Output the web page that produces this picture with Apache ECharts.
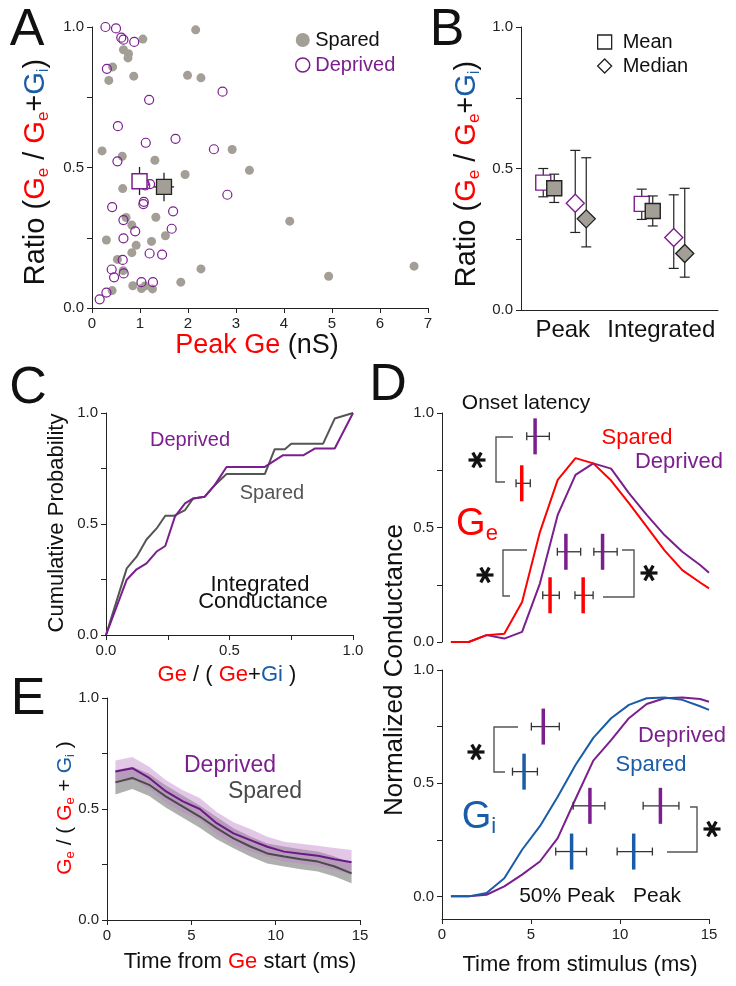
<!DOCTYPE html>
<html>
<head>
<meta charset="utf-8">
<script src="https://cdn.jsdelivr.net/npm/echarts@6/dist/echarts.min.js"></script>
<style>
  html, body { margin: 0; padding: 0; background: #fff; }
  #main { width: 736px; height: 986px; }
</style>
</head>
<body>
<div id="main"></div>
<script>
// ---------- data ----------
// A: peak Ge (nS) vs ratio, one point per cell
const aSparedX = [2.16, 1.06, 0.655, 0.76, 0.75, 0.43, 0.35, 0.87, 1.99, 2.27, 0.21, 0.63, 1.31, 2.92, 3.28, 1.94, 0.64, 1.33, 0.71, 0.83, 4.12, 1.53, 0.30, 1.24, 0.92, 0.83, 0.53, 2.27, 0.65, 4.93, 1.85, 0.85, 0.42, 1.03, 1.10, 1.26, 6.71];
const aSparedY = [0.99, 0.957, 0.919, 0.905, 0.89, 0.858, 0.81, 0.825, 0.828, 0.819, 0.559, 0.54, 0.526, 0.564, 0.49, 0.475, 0.425, 0.323, 0.322, 0.295, 0.309, 0.257, 0.242, 0.237, 0.223, 0.197, 0.173, 0.139, 0.133, 0.113, 0.092, 0.079, 0.062, 0.069, 0.078, 0.068, 0.149];
const aDeprivedX = [0.28, 0.50, 0.61, 0.655, 0.88, 0.31, 1.19, 2.72, 0.54, 1.12, 1.74, 2.54, 0.53, 1.11, 1.21, 1.09, 1.08, 1.07, 2.82, 0.42, 1.69, 0.655, 0.90, 1.66, 0.655, 1.20, 1.46, 0.64, 0.41, 0.46, 0.66, 1.03, 1.27, 0.30, 0.16];
const aDeprivedY = [1.0, 0.995, 0.962, 0.955, 0.947, 0.851, 0.741, 0.770, 0.647, 0.588, 0.602, 0.565, 0.522, 0.436, 0.441, 0.445, 0.378, 0.370, 0.403, 0.359, 0.344, 0.313, 0.273, 0.282, 0.248, 0.194, 0.19, 0.171, 0.137, 0.109, 0.123, 0.092, 0.092, 0.055, 0.031];
// A: group means [x, y], x error, y range
const aDepMean = [0.99, 0.451];
const aDepMeanXErr = [0.84, 1.14];
const aDepMeanYErr = [0.402, 0.502];
const aSpaMean = [1.5, 0.431];
const aSpaMeanXErr = [1.29, 1.71];
const aSpaMeanYErr = [0.38, 0.481];

// B: mean / median of ratio, peak and integrated
const bCats = ['Peak', 'Integrated'];
const bDepMean = [0.45, 0.375], bDepMeanLo = [0.40, 0.32], bDepMeanHi = [0.50, 0.427];
const bSpaMean = [0.43, 0.35], bSpaMeanLo = [0.38, 0.297], bSpaMeanHi = [0.48, 0.403];
const bDepMed = [0.377, 0.256], bDepMedLo = [0.274, 0.147], bDepMedHi = [0.564, 0.407];
const bSpaMed = [0.322, 0.20], bSpaMedLo = [0.223, 0.116], bSpaMedHi = [0.538, 0.43];

// C: cumulative probability of integrated Ge/(Ge+Gi)
const cSparedX = [0, 0.084, 0.124, 0.164, 0.205, 0.24, 0.275, 0.32, 0.353, 0.40, 0.44, 0.488, 0.643, 0.683, 0.724, 0.75, 0.879, 0.926, 1.0];
const cSparedY = [0, 0.30, 0.353, 0.43, 0.48, 0.537, 0.537, 0.563, 0.615, 0.623, 0.675, 0.725, 0.725, 0.837, 0.837, 0.862, 0.862, 0.975, 1.0];
const cDeprivedX = [0, 0.084, 0.124, 0.164, 0.205, 0.24, 0.279, 0.32, 0.353, 0.40, 0.44, 0.488, 0.643, 0.717, 0.80, 0.845, 0.926, 1.0];
const cDeprivedY = [0, 0.249, 0.296, 0.323, 0.376, 0.401, 0.533, 0.593, 0.615, 0.623, 0.675, 0.757, 0.757, 0.81, 0.81, 0.84, 0.84, 1.0];

// D: normalized conductance vs time from stimulus (ms)
const dTimes = [0.5, 1.5, 2.5, 3.5, 4.5, 5.5, 6.5, 7.5, 8.5, 9.5, 10.5, 11.5, 12.5, 13.5, 14.5, 15];
const geSpared = [0, 0, 0.03, 0.036, 0.175, 0.48, 0.708, 0.803, 0.78, 0.705, 0.606, 0.504, 0.40, 0.314, 0.26, 0.234];
const geDeprived = [0, 0, 0.03, 0.015, 0.044, 0.255, 0.555, 0.73, 0.78, 0.757, 0.65, 0.555, 0.467, 0.394, 0.336, 0.302];
const giSpared = [0, 0, 0.015, 0.08, 0.206, 0.31, 0.44, 0.58, 0.70, 0.787, 0.846, 0.875, 0.878, 0.868, 0.84, 0.824];
const giDeprived = [0, 0, 0.007, 0.044, 0.096, 0.154, 0.257, 0.43, 0.60, 0.69, 0.787, 0.85, 0.875, 0.878, 0.872, 0.86];
// D: latencies (ms): onset, 50% peak, peak; mean and error-bar ends
const latencyNames = ['Onset', '50% Peak', 'Peak'];
const geSparedLat = [4.48, 6.07, 7.93], geSparedLo = [4.16, 5.66, 7.47], geSparedHi = [4.96, 6.59, 8.49];
const geDeprivedLat = [5.23, 6.96, 9.02], geDeprivedLo = [4.76, 6.48, 8.53], geDeprivedHi = [6.03, 7.79, 9.84];
const giSparedLat = [4.61, 7.28, 10.77], giSparedLo = [3.96, 6.39, 9.84], giSparedHi = [5.36, 8.12, 11.82];
const giDeprivedLat = [5.69, 8.31, 12.27], giDeprivedLo = [5.02, 7.37, 11.3], giDeprivedHi = [6.59, 9.15, 13.31];

// E: Ge/(Ge+Gi) vs time from Ge start (ms), mean and SEM
const eTimes = [0.5, 1.5, 2.5, 3.5, 4.5, 5.5, 6.5, 7.5, 8.5, 9.5, 10.5, 11.5, 12.5, 13.5, 14.5];
const eDeprived = [0.669, 0.684, 0.64, 0.579, 0.534, 0.50, 0.436, 0.39, 0.36, 0.33, 0.308, 0.298, 0.289, 0.274, 0.26];
const eDeprivedSem = [0.05, 0.05, 0.05, 0.05, 0.05, 0.05, 0.05, 0.05, 0.05, 0.045, 0.045, 0.045, 0.045, 0.05, 0.055];
const eSpared = [0.62, 0.64, 0.609, 0.556, 0.511, 0.466, 0.414, 0.368, 0.331, 0.30, 0.286, 0.274, 0.263, 0.241, 0.21];
const eSparedSem = [0.055, 0.05, 0.05, 0.05, 0.05, 0.05, 0.05, 0.045, 0.045, 0.045, 0.045, 0.045, 0.045, 0.045, 0.045];

// ---------- styles ----------
const FONT = 'Liberation Sans, Arial, sans-serif';
const RED = '#ff0000';
const BLUE = '#1a5ca8';
const PURPLE = '#7b1f8e';
const GREY_DOT = '#a39e96';
const DARK = '#555555';
const INK = '#111111';

const chart = echarts.init(document.getElementById('main'), null, { renderer: 'canvas' });

function halfFmt(v) {
  return Math.abs(v * 2 - Math.round(v * 2)) < 1e-9 ? v.toFixed(1) : '';
}

function valAxis(gridIndex, min, max, interval, extra) {
  return Object.assign({
    type: 'value', gridIndex, min, max, interval,
    axisLine: { show: true, onZero: false, lineStyle: { color: '#222', width: 1 } },
    axisTick: { show: true, inside: false, length: 5, lineStyle: { color: '#222' } },
    axisLabel: { fontSize: 15, color: '#222', fontFamily: FONT, margin: 8 },
    splitLine: { show: false }
  }, extra || {});
}

function pairs(xs, ys) {
  return xs.map((x, i) => [x, ys[i]]);
}

// B markers with error bars
function bRender(kind) {
  return function (params, api) {
    const cat = api.value(0), cond = api.value(4);
    const c = api.coord([cat, api.value(1)]);
    const lo = api.coord([cat, api.value(2)]);
    const hi = api.coord([cat, api.value(3)]);
    const off = kind === 'mean' ? (cond === 0 ? -27 : -16) : (cond === 0 ? 5 : 16);
    const x = c[0] + off;
    const stroke = { stroke: '#222', lineWidth: 1.2 };
    const fill = cond === 0 ? '#fff' : GREY_DOT;
    const edge = cond === 0 ? PURPLE : '#222';
    const marker = kind === 'mean'
      ? { type: 'rect', shape: { x: x - 7.5, y: c[1] - 7.5, width: 15, height: 15 }, style: { fill, stroke: edge, lineWidth: 1.4 } }
      : { type: 'polygon', shape: { points: [[x, c[1] - 9], [x + 9, c[1]], [x, c[1] + 9], [x - 9, c[1]]] }, style: { fill, stroke: edge, lineWidth: 1.4 } };
    return {
      type: 'group',
      children: [
        { type: 'line', shape: { x1: x, y1: lo[1], x2: x, y2: hi[1] }, style: stroke },
        { type: 'line', shape: { x1: x - 5, y1: lo[1], x2: x + 5, y2: lo[1] }, style: stroke },
        { type: 'line', shape: { x1: x - 5, y1: hi[1], x2: x + 5, y2: hi[1] }, style: stroke },
        marker
      ]
    };
  };
}

// A group means with x and y error bars
function aMeanRender(params, api) {
  const cond = api.value(6);
  const c = api.coord([api.value(0), api.value(1)]);
  const xl = api.coord([api.value(2), api.value(1)]);
  const xh = api.coord([api.value(3), api.value(1)]);
  const yl = api.coord([api.value(0), api.value(4)]);
  const yh = api.coord([api.value(0), api.value(5)]);
  const stroke = { stroke: '#222', lineWidth: 1.3 };
  return {
    type: 'group',
    children: [
      { type: 'line', shape: { x1: xl[0], y1: c[1], x2: xh[0], y2: c[1] }, style: stroke },
      { type: 'line', shape: { x1: c[0], y1: yl[1], x2: c[0], y2: yh[1] }, style: stroke },
      { type: 'rect', shape: { x: c[0] - 7.5, y: c[1] - 7.5, width: 15, height: 15 },
        style: cond === 0 ? { fill: '#fff', stroke: PURPLE, lineWidth: 1.5 } : { fill: GREY_DOT, stroke: '#222', lineWidth: 1.3 } }
    ]
  };
}

// D latency markers: thin error bar + thick coloured tick
function latencyRender(colors) {
  return function (params, api) {
    const row = api.value(3);
    const c = api.coord([api.value(0), row]);
    const lo = api.coord([api.value(1), row]);
    const hi = api.coord([api.value(2), row]);
    const stroke = { stroke: '#333', lineWidth: 1.3 };
    return {
      type: 'group',
      children: [
        { type: 'line', shape: { x1: lo[0], y1: c[1], x2: hi[0], y2: c[1] }, style: stroke },
        { type: 'line', shape: { x1: lo[0], y1: c[1] - 4, x2: lo[0], y2: c[1] + 4 }, style: stroke },
        { type: 'line', shape: { x1: hi[0], y1: c[1] - 4, x2: hi[0], y2: c[1] + 4 }, style: stroke },
        { type: 'line', shape: { x1: c[0], y1: c[1] - 18, x2: c[0], y2: c[1] + 18 },
          style: { stroke: colors[api.value(4)], lineWidth: 3.5 } }
      ]
    };
  };
}

function latencyData(spLat, spLo, spHi, depLat, depLo, depHi, spRows, depRows) {
  const out = [];
  latencyNames.forEach((n, i) => {
    out.push([spLat[i], spLo[i], spHi[i], spRows[i], 0]);
    out.push([depLat[i], depLo[i], depHi[i], depRows[i], 1]);
  });
  return out;
}

function bandSeries(name, xi, yi, xs, mean, sem, color) {
  return {
    type: 'custom', name, xAxisIndex: xi, yAxisIndex: yi, silent: true, z: 1,
    data: xs.map((t, i) => [t, mean[i] - sem[i], mean[i] + sem[i]]),
    encode: { x: 0, y: [1, 2] },
    renderItem: function (params, api) {
      if (params.dataIndex !== 0) return null;
      const up = xs.map((t, i) => api.coord([t, mean[i] + sem[i]]));
      const dn = xs.map((t, i) => api.coord([t, mean[i] - sem[i]])).reverse();
      return { type: 'polygon', shape: { points: up.concat(dn) }, style: { fill: color } };
    }
  };
}

function lineSeries(name, xi, yi, data, color, width) {
  return {
    type: 'line', name, xAxisIndex: xi, yAxisIndex: yi, data,
    symbol: 'none', silent: true, z: 3,
    lineStyle: { color, width: width || 2 }, itemStyle: { color }
  };
}

// text helpers
function txt(x, y, text, size, color, extra) {
  return Object.assign({
    type: 'text', x, y, silent: true,
    style: { text, fill: color || INK, fontSize: size, fontFamily: FONT, align: 'center', verticalAlign: 'middle' }
  }, extra || {});
}

function richTxt(x, y, text, size, subSize, rotate) {
  const big = (c) => ({ fontSize: size, fontFamily: FONT, fill: c, color: c, lineHeight: size + 2 });
  const sub = (c) => ({ fontSize: subSize, fontFamily: FONT, fill: c, color: c, lineHeight: Math.round(subSize * 0.55), verticalAlign: 'bottom' });
  return {
    type: 'text', x, y, rotation: rotate ? Math.PI / 2 : 0, silent: true,
    style: {
      text, align: 'center', verticalAlign: 'middle', fontSize: size, fontFamily: FONT,
      rich: { k: big(INK), r: big(RED), b: big(BLUE), rs: sub(RED), bs: sub(BLUE) }
    }
  };
}

function bracket(points) {
  return { type: 'polyline', silent: true, shape: { points }, style: { stroke: DARK, lineWidth: 1.4, fill: null } };
}

function asterisk(cx, cy) {
  const r = 8.5;
  const children = [0, 60, 120].map(a => {
    const rad = a * Math.PI / 180;
    const dx = r * Math.cos(rad), dy = r * Math.sin(rad);
    return { type: 'line', shape: { x1: cx - dx, y1: cy - dy, x2: cx + dx, y2: cy + dy }, style: { stroke: INK, lineWidth: 3.2 } };
  });
  return { type: 'group', silent: true, children };
}

const option = {
  animation: false,
  backgroundColor: '#ffffff',
  textStyle: { fontFamily: FONT },
  grid: [
    { left: 92, top: 27, width: 336, height: 281 },   // A
    { left: 521, top: 27, width: 197, height: 283 },  // B
    { left: 106, top: 413, width: 247, height: 222 }, // C
    { left: 442, top: 413, width: 267, height: 229 }, // D top (Ge)
    { left: 442, top: 670, width: 267, height: 249 }, // D bottom (Gi)
    { left: 107, top: 698, width: 253, height: 222 }  // E
  ],
  xAxis: [
    valAxis(0, 0, 7, 1),
    { type: 'category', gridIndex: 1, data: bCats,
      axisLine: { show: true, onZero: false, lineStyle: { color: '#222' } }, axisTick: { show: false },
      axisLabel: { interval: 0, fontSize: 24, color: INK, fontFamily: FONT, margin: 8, padding: [0, 15, 0, 0] } },
    valAxis(2, 0, 1, 0.25, { axisLabel: { fontSize: 15, color: '#222', fontFamily: FONT, margin: 8, formatter: halfFmt } }),
    valAxis(3, 0, 15, 5, { show: false }),
    valAxis(4, 0, 15, 5),
    valAxis(5, 0, 15, 5)
  ],
  yAxis: [
    valAxis(0, 0, 1, 0.25, { axisLabel: { fontSize: 15, color: '#222', fontFamily: FONT, margin: 8, formatter: halfFmt } }),
    valAxis(1, 0, 1, 0.25, { axisLabel: { fontSize: 15, color: '#222', fontFamily: FONT, margin: 8, formatter: halfFmt } }),
    valAxis(2, 0, 1, 0.25, { axisLabel: { fontSize: 15, color: '#222', fontFamily: FONT, margin: 8, formatter: halfFmt } }),
    valAxis(3, 0, 1, 0.25, { axisLabel: { fontSize: 15, color: '#222', fontFamily: FONT, margin: 8, formatter: halfFmt } }),
    valAxis(4, -0.1, 1, null, {
      axisTick: { show: true, length: 5, lineStyle: { color: '#222' }, customValues: [0, 0.25, 0.5, 0.75, 1] },
      axisLabel: { fontSize: 15, color: '#222', fontFamily: FONT, margin: 8, customValues: [0, 0.5, 1], formatter: v => v.toFixed(1) }
    }),
    valAxis(5, 0, 1, 0.25, { axisLabel: { fontSize: 15, color: '#222', fontFamily: FONT, margin: 8, formatter: halfFmt } })
  ],
  legend: [
    {
      left: 290, top: 25, orient: 'vertical', itemWidth: 15, itemHeight: 14, itemGap: 5,
      selectedMode: false, textStyle: { fontSize: 20, fontFamily: FONT },
      data: [
        { name: 'Spared', icon: 'circle', itemStyle: { color: GREY_DOT, borderWidth: 0 }, textStyle: { color: INK } },
        { name: 'Deprived', icon: 'circle', itemStyle: { color: '#fff', borderColor: PURPLE, borderWidth: 1.5 }, textStyle: { color: PURPLE } }
      ]
    },
    {
      left: 592, top: 27, orient: 'vertical', itemWidth: 14, itemHeight: 14, itemGap: 4,
      selectedMode: false, textStyle: { fontSize: 20, fontFamily: FONT, color: INK, padding: [0, 0, 0, 6] },
      data: [
        { name: 'Mean', icon: 'rect', itemStyle: { color: '#fff', borderColor: '#222', borderWidth: 1.3 } },
        { name: 'Median', icon: 'diamond', itemStyle: { color: '#fff', borderColor: '#222', borderWidth: 1.3 } }
      ]
    }
  ],
  series: [
    // A
    { type: 'scatter', name: 'Spared', xAxisIndex: 0, yAxisIndex: 0, data: pairs(aSparedX, aSparedY),
      symbol: 'circle', symbolSize: 9, itemStyle: { color: GREY_DOT, opacity: 1 }, z: 2, silent: true },
    { type: 'scatter', name: 'Deprived', xAxisIndex: 0, yAxisIndex: 0, data: pairs(aDeprivedX, aDeprivedY),
      symbol: 'circle', symbolSize: 9, itemStyle: { color: 'rgba(255,255,255,0)', borderColor: PURPLE, borderWidth: 1.2, opacity: 1 }, z: 3, silent: true },
    { type: 'custom', name: 'A means', xAxisIndex: 0, yAxisIndex: 0, z: 4, silent: true,
      data: [
        [aDepMean[0], aDepMean[1], aDepMeanXErr[0], aDepMeanXErr[1], aDepMeanYErr[0], aDepMeanYErr[1], 0],
        [aSpaMean[0], aSpaMean[1], aSpaMeanXErr[0], aSpaMeanXErr[1], aSpaMeanYErr[0], aSpaMeanYErr[1], 1]
      ],
      encode: { x: 0, y: 1 }, renderItem: aMeanRender },
    // B
    { type: 'custom', name: 'Mean', xAxisIndex: 1, yAxisIndex: 1, z: 4, silent: true,
      itemStyle: { color: '#fff', borderColor: '#222' },
      data: bCats.flatMap((c, i) => [[i, bDepMean[i], bDepMeanLo[i], bDepMeanHi[i], 0], [i, bSpaMean[i], bSpaMeanLo[i], bSpaMeanHi[i], 1]]),
      encode: { x: 0, y: [1, 2, 3] }, renderItem: bRender('mean') },
    { type: 'custom', name: 'Median', xAxisIndex: 1, yAxisIndex: 1, z: 4, silent: true,
      itemStyle: { color: '#fff', borderColor: '#222' },
      data: bCats.flatMap((c, i) => [[i, bDepMed[i], bDepMedLo[i], bDepMedHi[i], 0], [i, bSpaMed[i], bSpaMedLo[i], bSpaMedHi[i], 1]]),
      encode: { x: 0, y: [1, 2, 3] }, renderItem: bRender('median') },
    // C
    lineSeries('C Spared', 2, 2, pairs(cSparedX, cSparedY), DARK, 2),
    lineSeries('C Deprived', 2, 2, pairs(cDeprivedX, cDeprivedY), PURPLE, 2),
    // D top (Ge)
    lineSeries('Ge Deprived', 3, 3, pairs(dTimes, geDeprived), PURPLE, 2),
    lineSeries('Ge Spared', 3, 3, pairs(dTimes, geSpared), RED, 2),
    { type: 'custom', name: 'Ge latency', xAxisIndex: 3, yAxisIndex: 3, z: 5, silent: true,
      data: latencyData(geSparedLat, geSparedLo, geSparedHi, geDeprivedLat, geDeprivedLo, geDeprivedHi,
        [0.693, 0.204, 0.204], [0.898, 0.394, 0.394]),
      encode: { x: [0, 1, 2], y: 3 }, renderItem: latencyRender([RED, PURPLE]) },
    // D bottom (Gi)
    lineSeries('Gi Deprived', 4, 4, pairs(dTimes, giDeprived), PURPLE, 2),
    lineSeries('Gi Spared', 4, 4, pairs(dTimes, giSpared), BLUE, 2),
    { type: 'custom', name: 'Gi latency', xAxisIndex: 4, yAxisIndex: 4, z: 5, silent: true,
      data: latencyData(giSparedLat, giSparedLo, giSparedHi, giDeprivedLat, giDeprivedLo, giDeprivedHi,
        [0.551, 0.198, 0.198], [0.75, 0.40, 0.40]),
      encode: { x: [0, 1, 2], y: 3 }, renderItem: latencyRender([BLUE, PURPLE]) },
    // E
    bandSeries('E Spared SEM', 5, 5, eTimes, eSpared, eSparedSem, 'rgba(110,110,110,0.55)'),
    bandSeries('E Deprived SEM', 5, 5, eTimes, eDeprived, eDeprivedSem, 'rgba(190,130,200,0.45)'),
    lineSeries('E Spared', 5, 5, pairs(eTimes, eSpared), '#4a4a4a', 2),
    lineSeries('E Deprived', 5, 5, pairs(eTimes, eDeprived), '#6a1a84', 2)
  ],
  graphic: {
    elements: [
      // panel letters
      txt(27, 31, 'A', 52), txt(447, 31, 'B', 52), txt(28, 389, 'C', 52), txt(388, 386, 'D', 52), txt(28, 700, 'E', 52),
      // A
      richTxt(36, 172, '{k|Ratio (}{r|G}{rs|e}{k| / }{r|G}{rs|e}{k|+}{b|G}{bs|i}{k|)}', 29, 17, true),
      richTxt(257, 346, '{r|Peak Ge}{k| (nS)}', 27, 16, false),
      // B
      richTxt(467, 174, '{k|Ratio (}{r|G}{rs|e}{k| / }{r|G}{rs|e}{k|+}{b|G}{bs|i}{k|)}', 29, 17, true),
      // C
      txt(57, 523, 'Cumulative Probability', 22, INK, { rotation: Math.PI / 2 }),
      richTxt(227, 675, '{r|Ge}{k| / ( }{r|Ge}{k|+}{b|Gi}{k| )}', 22, 14, false),
      txt(190, 440, 'Deprived', 20, PURPLE),
      txt(272, 493, 'Spared', 20, DARK),
      txt(260, 585, 'Integrated', 22),
      txt(263, 602, 'Conductance', 22),
      // D
      txt(395, 670, 'Normalized Conductance', 26, INK, { rotation: Math.PI / 2 }),
      txt(580, 965, 'Time from stimulus (ms)', 22),
      txt(526, 403, 'Onset latency', 21),
      txt(637, 438, 'Spared', 22, RED),
      txt(679, 462, 'Deprived', 22, PURPLE),
      richTxt(477, 525, '{r|G}{rs|e}', 38, 22, false),
      txt(682, 736, 'Deprived', 22, PURPLE),
      txt(651, 765, 'Spared', 22, BLUE),
      richTxt(479, 818, '{b|G}{bs|i}', 38, 22, false),
      txt(567, 896, '50% Peak', 21),
      txt(657, 896, 'Peak', 21),
      bracket([[513, 437], [496, 437], [496, 482], [505, 482]]),
      bracket([[527, 550], [503, 550], [503, 596], [510, 596]]),
      bracket([[622, 550], [634, 550], [634, 597], [603, 597]]),
      bracket([[518, 727], [494, 727], [494, 772], [505, 772]]),
      bracket([[690, 807], [697, 807], [697, 852], [667, 852]]),
      asterisk(477, 460), asterisk(485, 575), asterisk(649, 573),
      asterisk(476, 752), asterisk(712, 829),
      // E
      richTxt(65, 808, '{r|G}{rs|e}{k| / ( }{r|G}{rs|e}{k| + }{b|G}{bs|i}{k| )}', 21, 13, true),
      richTxt(240, 962, '{k|Time from }{r|Ge}{k| start (ms)}', 22, 14, false),
      txt(230, 766, 'Deprived', 23, PURPLE),
      txt(265, 792, 'Spared', 23, '#4a4a4a')
    ]
  }
};

chart.setOption(option);
</script>
</body>
</html>
